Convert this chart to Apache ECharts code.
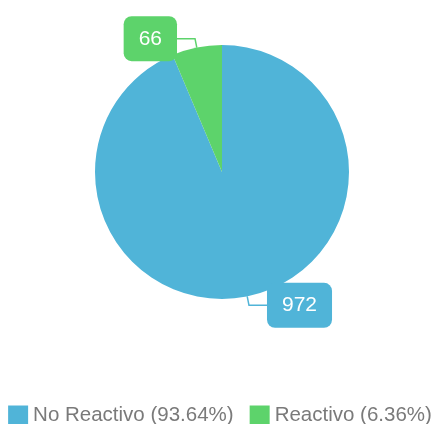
<!DOCTYPE html>
<html>
<head>
<meta charset="utf-8">
<script src="https://cdn.jsdelivr.net/npm/echarts@6/dist/echarts.min.js"></script>
<style>
  html, body { margin: 0; padding: 0; background: #fff; }
  #main { width: 440px; height: 424px; }
</style>
</head>
<body>
<div id="main"></div>
<script>
const categories = ["No Reactivo", "Reactivo"];
const values = [972, 66];
const colors = ["#50b4d8", "#5dd36b"];

const total = values.reduce((a, b) => a + b, 0);
const chart = echarts.init(document.getElementById("main"));

const option = {
  color: colors,
  legend: {
    top: 400,
    left: "center",
    icon: "rect",
    itemWidth: 20,
    itemHeight: 20,
    itemGap: 16,
    textStyle: { fontSize: 20.5, color: "#7a7a7a", fontFamily: "Liberation Sans, Arial, sans-serif" },
    formatter: name => {
      const v = values[categories.indexOf(name)];
      return name + " (" + (v / total * 100).toFixed(2) + "%)";
    },
    data: categories
  },
  series: [
    {
      type: "pie",
      center: [222, 172],
      radius: [0, 127],
      startAngle: 90,
      clockwise: true,
      avoidLabelOverlap: false,
      label: {
        show: true,
        position: "outside",
        formatter: "{c}",
        color: "#fff",
        fontSize: 21,
        fontFamily: "Liberation Sans, Arial, sans-serif",
        backgroundColor: "inherit",
        borderRadius: 8,
        padding: [12, 15],
        distanceToLabelLine: 0
      },
      labelLine: {
        show: true,
        length: 9,
        length2: 18,
        lineStyle: { width: 1.5 }
      },
      itemStyle: { borderWidth: 0 },
      emphasis: { disabled: true },
      data: categories.map((c, i) => ({ name: c, value: values[i] }))
    }
  ]
};
chart.setOption(option);
</script>
</body>
</html>
